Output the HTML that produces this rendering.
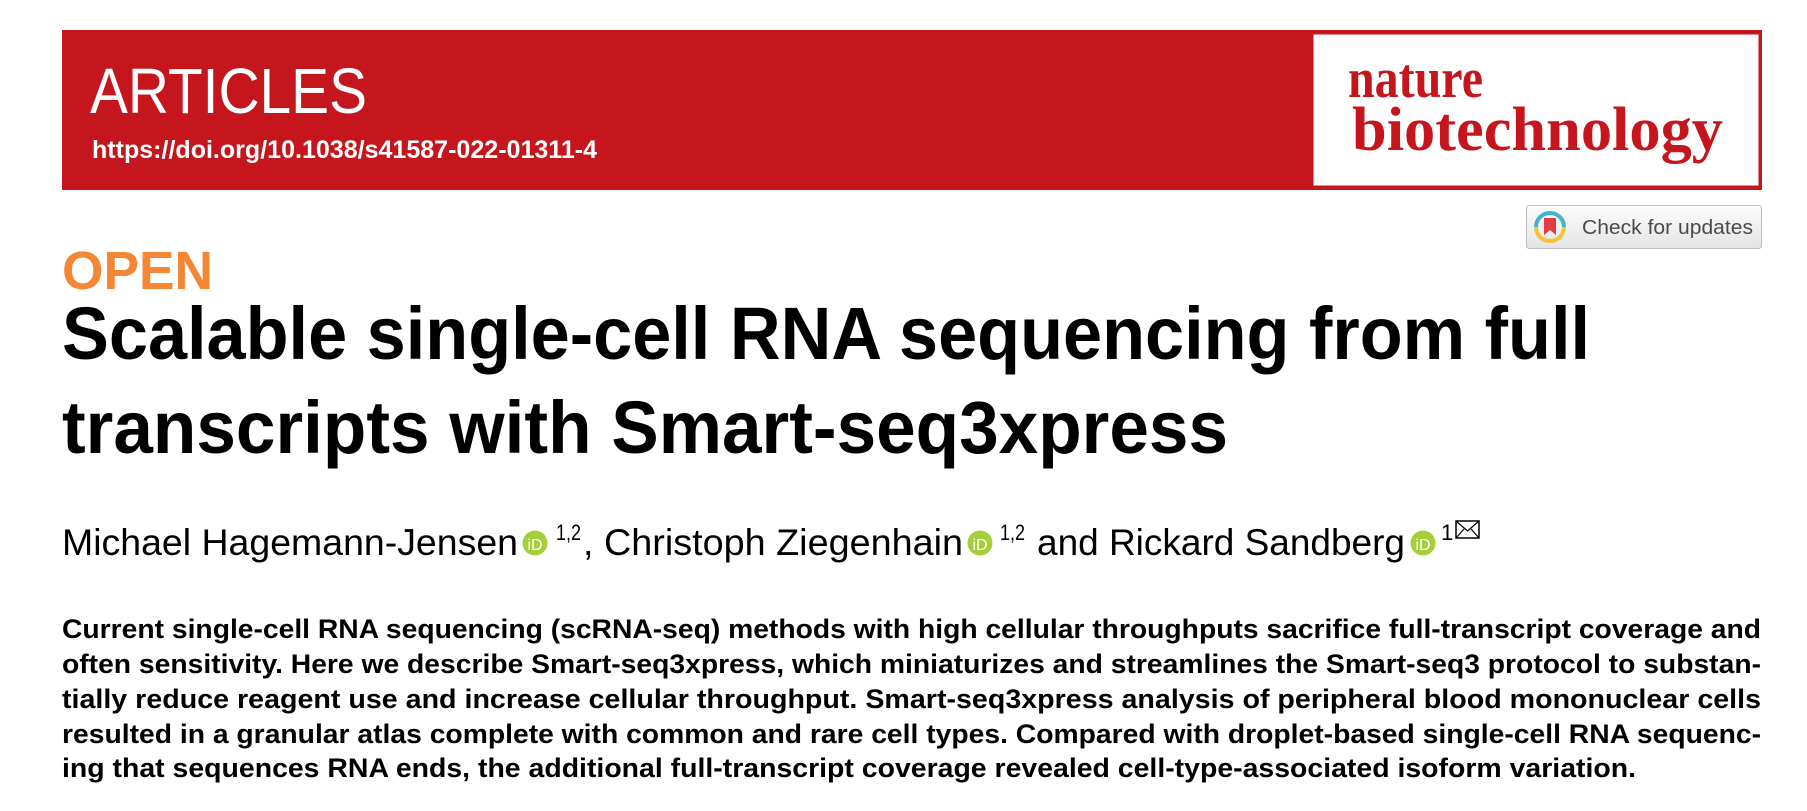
<!DOCTYPE html>
<html><head><meta charset="utf-8"><style>
html,body{margin:0;padding:0;background:#fff;width:1807px;height:811px;overflow:hidden}
svg{display:block}
text{font-family:"Liberation Sans",sans-serif}
</style></head><body>
<svg width="1807" height="811" viewBox="0 0 1807 811" xmlns="http://www.w3.org/2000/svg">
<defs>
<linearGradient id="btn" x1="0" y1="0" x2="0" y2="1"><stop offset="0" stop-color="#fdfdfd"/><stop offset="1" stop-color="#e4e4e4"/></linearGradient>
</defs>
<g>
<rect x="62" y="30" width="1700" height="160" fill="#c4161c"/>
<rect x="1312" y="33" width="448" height="154" fill="#fff" stroke="#c4161c" stroke-width="3"/>
<text x="90" y="113" font-size="64" fill="#fff" textLength="277" lengthAdjust="spacingAndGlyphs">ARTICLES</text>
<text x="92" y="158" font-size="25" font-weight="bold" fill="#fff" textLength="505" lengthAdjust="spacingAndGlyphs">https://doi.org/10.1038/s41587-022-01311-4</text>
<g>
<text x="1348" y="97" font-size="56" font-weight="bold" fill="#c4161c" textLength="135" lengthAdjust="spacingAndGlyphs" style="font-family:'Liberation Serif',serif">nature</text>
<text x="1352" y="150" font-size="62" font-weight="bold" fill="#c4161c" textLength="371" lengthAdjust="spacingAndGlyphs" style="font-family:'Liberation Serif',serif">biotechnology</text>
</g>
</g>
<g>
<rect x="1526.5" y="205.5" width="235" height="43" rx="3" fill="url(#btn)" stroke="#bdbdbd"/>
<path d="M1550 213 A14 14 0 0 1 1564 227" fill="none" stroke="#3fb4cf" stroke-width="4"/>
<path d="M1564 227 A14 14 0 0 1 1536 227" fill="none" stroke="#f4c33b" stroke-width="4"/>
<path d="M1536 227 A14 14 0 0 1 1550 213" fill="none" stroke="#3fb4cf" stroke-width="4"/>
<path d="M1544 218 h12 v17 l-6 -5 l-6 5 z" fill="#e43b45"/>
<text x="1582" y="234" font-size="20" fill="#4a4a4a" textLength="171" lengthAdjust="spacingAndGlyphs">Check for updates</text>
</g>
<text x="62" y="289" font-size="54" font-weight="bold" fill="#f58634" textLength="151" lengthAdjust="spacingAndGlyphs">OPEN</text>
<g>
<text x="62" y="359" font-size="74" font-weight="bold" fill="#000" textLength="1528" lengthAdjust="spacingAndGlyphs">Scalable single-cell RNA sequencing from full</text>
<text x="62" y="453" font-size="74" font-weight="bold" fill="#000" textLength="1166" lengthAdjust="spacingAndGlyphs">transcripts with Smart-seq3xpress</text>
</g>
<g>
<text x="62" y="555" font-size="37" fill="#000" textLength="456" lengthAdjust="spacingAndGlyphs">Michael Hagemann-Jensen</text>
<circle cx="535" cy="543" r="12.5" fill="#a6ce39"/>
<text x="535" y="550" font-size="16" fill="#fff" text-anchor="middle">iD</text>
<text x="556" y="540" font-size="22" fill="#000" textLength="25" lengthAdjust="spacingAndGlyphs">1,2</text>
<text x="583" y="555" font-size="37" fill="#000" textLength="380" lengthAdjust="spacingAndGlyphs">, Christoph Ziegenhain</text>
<circle cx="980" cy="543" r="12.5" fill="#a6ce39"/>
<text x="980" y="550" font-size="16" fill="#fff" text-anchor="middle">iD</text>
<text x="1000" y="540" font-size="22" fill="#000" textLength="25" lengthAdjust="spacingAndGlyphs">1,2</text>
<text x="1037" y="555" font-size="37" fill="#000" textLength="368" lengthAdjust="spacingAndGlyphs">and Rickard Sandberg</text>
<circle cx="1423" cy="543" r="12.5" fill="#a6ce39"/>
<text x="1423" y="550" font-size="16" fill="#fff" text-anchor="middle">iD</text>
<text x="1441" y="540" font-size="22" fill="#000">1</text>
<g>
<rect x="1456" y="521" width="23" height="17" fill="none" stroke="#000" stroke-width="1.5"/>
<path d="M1456 521 L1467.5 531 L1479 521 M1456 538 L1464 529 M1479 538 L1471 529" fill="none" stroke="#000" stroke-width="1.2"/>
</g>
</g>
<g font-size="27" font-weight="bold" fill="#000">
<text x="62" y="638" textLength="1699" lengthAdjust="spacingAndGlyphs">Current single-cell RNA sequencing (scRNA-seq) methods with high cellular throughputs sacrifice full-transcript coverage and</text>
<text x="62" y="673" textLength="1699" lengthAdjust="spacingAndGlyphs">often sensitivity. Here we describe Smart-seq3xpress, which miniaturizes and streamlines the Smart-seq3 protocol to substan-</text>
<text x="62" y="708" textLength="1699" lengthAdjust="spacingAndGlyphs">tially reduce reagent use and increase cellular throughput. Smart-seq3xpress analysis of peripheral blood mononuclear cells</text>
<text x="62" y="743" textLength="1699" lengthAdjust="spacingAndGlyphs">resulted in a granular atlas complete with common and rare cell types. Compared with droplet-based single-cell RNA sequenc-</text>
<text x="62" y="777" textLength="1574" lengthAdjust="spacingAndGlyphs">ing that sequences RNA ends, the additional full-transcript coverage revealed cell-type-associated isoform variation.</text>
</g>
</svg>
</body></html>
